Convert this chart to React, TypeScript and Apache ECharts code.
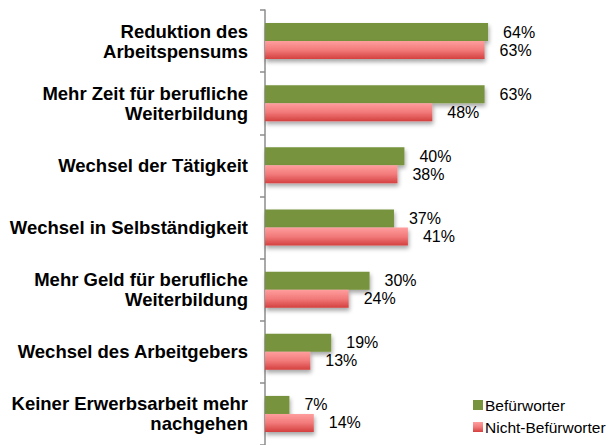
import React, { useEffect, useRef } from "react";
import * as echarts from "echarts";

const categories = [
  "Reduktion des\nArbeitspensums",
  "Mehr Zeit für berufliche\nWeiterbildung",
  "Wechsel der Tätigkeit",
  "Wechsel in Selbständigkeit",
  "Mehr Geld für berufliche\nWeiterbildung",
  "Wechsel des Arbeitgebers",
  "Keiner Erwerbsarbeit mehr\nnachgehen",
];
const befuerworter = [64, 63, 40, 37, 30, 19, 7];
const nichtBefuerworter = [63, 48, 38, 41, 24, 13, 14];
const seriesNames = ["Befürworter", "Nicht-Befürworter"];

const FONT = "'Liberation Sans', Arial, sans-serif";

export default function App() {
  const ref = useRef<HTMLDivElement>(null);
  useEffect(() => {
    if (!ref.current) return;
    const chart = echarts.init(ref.current, undefined, { renderer: "svg" });
    const shadow = {
      shadowColor: "rgba(0,0,0,0.35)",
      shadowBlur: 4,
      shadowOffsetX: 1,
      shadowOffsetY: 3,
    };
    const redGrad = new echarts.graphic.LinearGradient(0, 0, 0, 1, [
      { offset: 0, color: "#ff9e9e" },
      { offset: 0.5, color: "#f27a7a" },
      { offset: 1, color: "#d4403f" },
    ]);
    const labelStyle = {
      show: true,
      position: "right" as const,
      distance: 15,
      formatter: "{c}%",
      fontFamily: FONT,
      fontSize: 16,
      color: "#000",
    };
    chart.setOption({
      animation: false,
      textStyle: { fontFamily: FONT },
      grid: { left: 265, top: 10, width: 244, height: 437 },
      legend: {
        orient: "vertical",
        left: 473,
        top: 397,
        padding: 0,
        itemWidth: 10,
        itemHeight: 10,
        itemGap: 6,
        icon: "rect",
        textStyle: { fontFamily: FONT, fontSize: 15.5, color: "#000", padding: [0, 0, 0, -3] },
        data: seriesNames,
      },
      xAxis: {
        type: "value",
        min: 0,
        max: 70,
        show: false,
      },
      yAxis: {
        type: "category",
        inverse: true,
        data: categories,
        axisLine: { show: true, lineStyle: { color: "#8c8c8c", width: 1.5 } },
        axisTick: { show: true, length: 5, lineStyle: { color: "#8c8c8c", width: 1.5 } },
        axisLabel: {
          margin: 17,
          fontFamily: FONT,
          fontSize: 18.5,
          fontWeight: "bold",
          color: "#000",
          lineHeight: 20,
          align: "right",
        },
        splitLine: { show: false },
      },
      series: [
        {
          name: seriesNames[0],
          type: "bar",
          data: befuerworter,
          barWidth: 18,
          barGap: "0%",
          itemStyle: { color: "#77933c", ...shadow },
          label: labelStyle,
        },
        {
          name: seriesNames[1],
          type: "bar",
          data: nichtBefuerworter,
          barWidth: 18,
          barGap: "0%",
          itemStyle: { color: redGrad, ...shadow },
          label: labelStyle,
        },
      ],
    });
    return () => chart.dispose();
  }, []);
  return <div ref={ref} style={{ width: 611, height: 445, position: "absolute", left: 0, top: 0, background: "#fff" }} />;
}
